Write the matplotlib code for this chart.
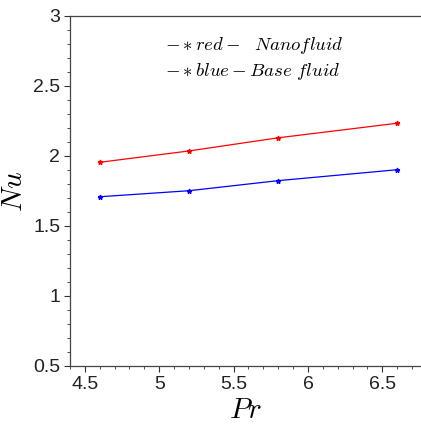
import matplotlib.pyplot as plt
from matplotlib.ticker import MultipleLocator

# Pr values and Nusselt numbers
pr = [4.6, 5.2, 5.8, 6.6]
nu_nano = [1.955, 2.036, 2.13, 2.234]
nu_base = [1.709, 1.752, 1.824, 1.902]
x_ticks = [4.5, 5, 5.5, 6, 6.5]
x_labels = ['4.5', '5', '5.5', '6', '6.5']
y_ticks = [0.5, 1, 1.5, 2, 2.5, 3]
y_labels = ['0.5', '1', '1.5', '2', '2.5', '3']

plt.rcParams['mathtext.fontset'] = 'cm'
plt.rcParams['font.family'] = 'Liberation Sans'

fig = plt.figure(figsize=(4.21, 4.29), dpi=100)
ax = fig.add_axes([70/421, 63/429, 1 - 70/421, (366 - 16)/429])

ax.plot(pr, nu_nano, color='red', lw=0.9, marker='*', ms=3.5)
ax.plot(pr, nu_base, color='blue', lw=0.9, marker='*', ms=3.5)

ax.set_xlim(4.4, 6.76)
ax.set_ylim(0.5, 3)
ax.xaxis.set_minor_locator(MultipleLocator(0.1))
ax.yaxis.set_minor_locator(MultipleLocator(0.1))
ax.set_xticks(x_ticks)
ax.set_xticklabels(x_labels)
ax.set_yticks(y_ticks)
ax.set_yticklabels(y_labels)
ax.tick_params(which='major', direction='out', length=4, width=0.8,
               labelsize=14, colors='#333333', labelcolor='#222222', pad=3)
ax.tick_params(which='minor', direction='out', length=2, width=0.6, colors='#333333')
ax.spines['right'].set_visible(False)
for s in ['left', 'bottom', 'top']:
    ax.spines[s].set_color('#444444')
    ax.spines[s].set_linewidth(0.9)

ax.set_xlabel(r'$Pr$', fontsize=21, labelpad=2)
ax.set_ylabel(r'$Nu$', fontsize=21, labelpad=4)

ax.text((165 - 70) / (421 - 70), (366 - 45) / 350, r'$-*red-\ \ Nanofluid$',
        transform=ax.transAxes, fontsize=13.5, va='center', ha='left')
ax.text((165 - 70) / (421 - 70), (366 - 72) / 350, r'$-*blue-Base\ fluid$',
        transform=ax.transAxes, fontsize=13.5, va='center', ha='left')

fig.savefig('out.png', dpi=100)
